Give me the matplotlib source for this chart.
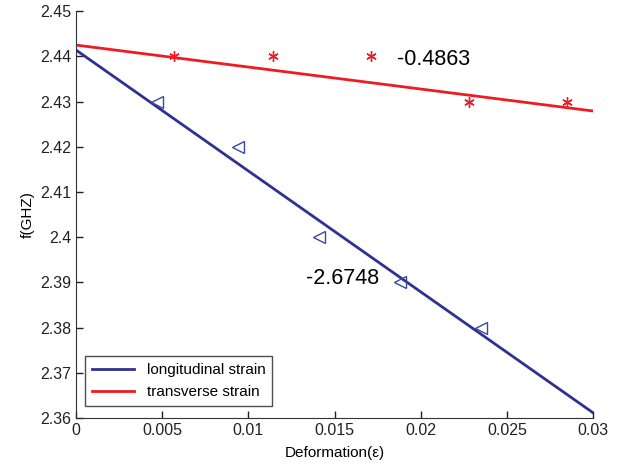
import numpy as np
import matplotlib.pyplot as plt

plt.rcParams['font.family'] = ['Liberation Sans', 'DejaVu Sans']

# measured resonance frequency vs. deformation
long_x = [0.0047, 0.0094, 0.0141, 0.0188, 0.0235]
long_f = [2.43, 2.42, 2.40, 2.39, 2.38]
trans_x = [0.0057, 0.0114, 0.0171, 0.0228, 0.0285]
trans_f = [2.44, 2.44, 2.44, 2.43, 2.43]

# linear fits (slope, intercept)
long_slope, long_icpt = -2.6748, 2.4414
trans_slope, trans_icpt = -0.4863, 2.4425

blue = '#2E3192'
red = '#ED1C24'

fig = plt.figure(figsize=(6.19, 4.65), dpi=100)
ax = fig.add_axes([0.1228, 0.101, 0.8354, 0.875])

xfit = np.array([0.0, 0.03])
ax.plot(xfit, long_icpt + long_slope * xfit, color=blue, lw=2, label='longitudinal strain')
ax.plot(xfit, trans_icpt + trans_slope * xfit, color=red, lw=2, label='transverse strain')

ax.plot(long_x, long_f, ls='none', marker='<', ms=8.5, mfc='none', mec='#3B48A3', mew=1)
ax.plot(trans_x, trans_f, ls='none', marker=(6, 2, 0), ms=7.5, mec=red, mew=1)

ax.text(0.0186, 2.4392, '%.4f' % trans_slope, fontsize=15.5, va='center', ha='left')
ax.text(0.01335, 2.3909, '%.4f' % long_slope, fontsize=15.5, va='center', ha='left')

ax.set_xlim(0, 0.03)
ax.set_ylim(2.36, 2.45)
ax.set_xticks([0, 0.005, 0.01, 0.015, 0.02, 0.025, 0.03])
ax.set_xticklabels(['0', '0.005', '0.01', '0.015', '0.02', '0.025', '0.03'])
ax.set_yticks(np.round(np.arange(2.36, 2.4501, 0.01), 2))
ax.set_yticklabels(['2.36', '2.37', '2.38', '2.39', '2.4', '2.41', '2.42', '2.43', '2.44', '2.45'])
ax.tick_params(direction='in', length=5, width=1, labelsize=11.5, colors='#222222')
ax.spines['top'].set_visible(False)
ax.spines['right'].set_visible(False)
for s in ('left', 'bottom'):
    ax.spines[s].set_color('#333333')

ax.set_xlabel('Deformation(ε)', fontsize=11, labelpad=6)
ax.set_ylabel('f(GHZ)', fontsize=11, labelpad=4)

leg = ax.legend(loc='lower left', fontsize=11, frameon=True, fancybox=False,
                edgecolor='#222222', handlelength=2.8, borderpad=0.45,
                borderaxespad=0, bbox_to_anchor=(0.017, 0.03))
leg.get_frame().set_linewidth(1)

fig.savefig('out.png', dpi=100)
